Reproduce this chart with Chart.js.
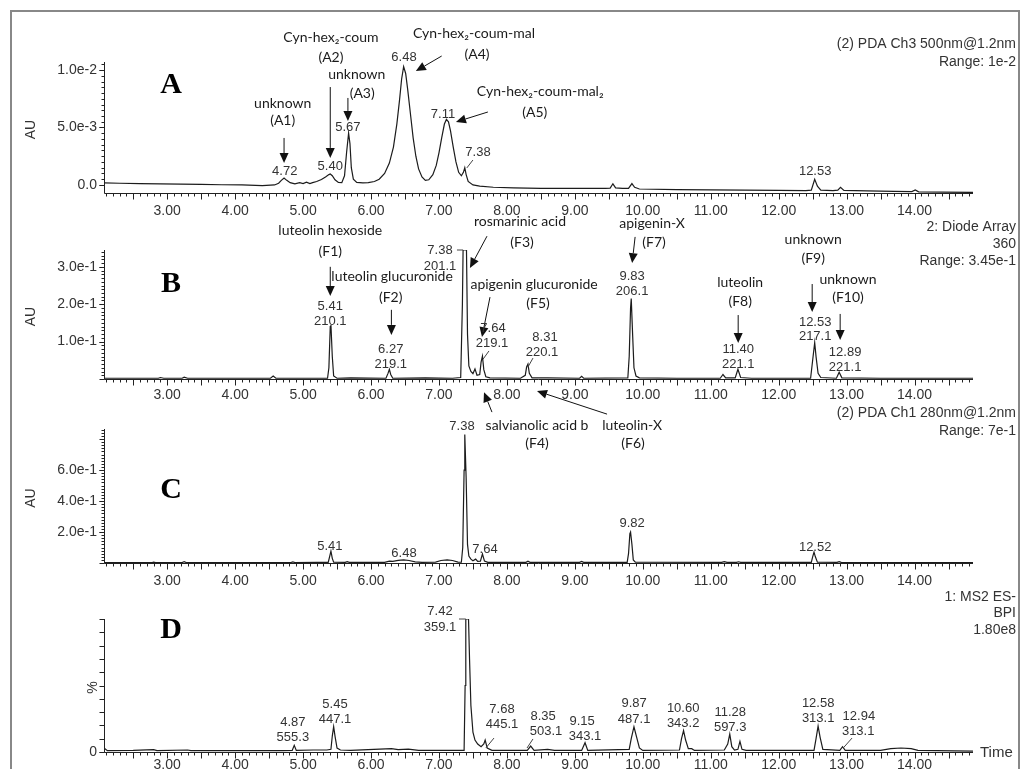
<!DOCTYPE html>
<html>
<head>
<meta charset="utf-8">
<script src="https://cdn.jsdelivr.net/npm/chart.js@4.4.0/dist/chart.umd.min.js"></script>
<style>
  html, body { margin: 0; padding: 0; background: #fff; }
  body { width: 1021px; height: 769px; position: relative; overflow: hidden; }
  #frame { position: absolute; left: 10px; top: 10px; width: 1006px; height: 800px; border: 2px solid #888; box-sizing: content-box; }
  canvas { position: absolute; left: 0; top: 0; }
</style>
</head>
<body>
<div id="frame"></div>
<canvas id="panelA" width="1021" height="769"></canvas>
<canvas id="panelB" width="1021" height="769"></canvas>
<canvas id="panelC" width="1021" height="769"></canvas>
<canvas id="panelD" width="1021" height="769"></canvas>
<script>
// ---- retention-time axis (minutes) ----
const timeRange = [2.07, 14.86];
const timeTicks = [3, 4, 5, 6, 7, 8, 9, 10, 11, 12, 13, 14];
const timeTickLabels = ['3.00', '4.00', '5.00', '6.00', '7.00', '8.00', '9.00', '10.00', '11.00', '12.00', '13.00', '14.00'];

// ---- A: PDA 500 nm trace [time, AU] ----
const traceA = [
  [2.07,0.00018],[2.3,0.00015],[2.6,0.00012],[2.9,0.0001],[3.2,0.00008],[3.5,0.00005],[3.8,0.00002],[4.1,0.0],
  [4.4,-0.00005],[4.58,0.0],[4.64,0.00015],[4.68,0.0004],[4.72,0.0006],[4.76,0.0004],[4.81,0.0002],[4.88,0.0001],
  [4.95,0.0002],[5.0,0.00012],[5.05,0.00025],[5.1,0.00012],[5.14,0.0002],[5.2,0.0003],[5.27,0.00048],[5.33,0.0007],
  [5.38,0.0009],[5.40,0.00095],[5.43,0.0008],[5.47,0.00045],[5.52,0.00022],[5.57,0.0002],[5.61,0.0008],[5.64,0.0028],
  [5.67,0.0045],[5.69,0.0036],[5.71,0.0015],[5.74,0.0005],[5.79,0.00022],[5.88,0.00018],[5.96,0.0002],[6.05,0.0003],
  [6.12,0.0005],[6.2,0.001],[6.27,0.0019],[6.33,0.0033],[6.38,0.0053],[6.42,0.0074],[6.45,0.0092],[6.48,0.0103],
  [6.51,0.0097],[6.54,0.0083],[6.58,0.0062],[6.62,0.0041],[6.66,0.0025],[6.70,0.0014],[6.75,0.0007],[6.80,0.0004],
  [6.85,0.00045],[6.91,0.0009],[6.96,0.0017],[7.00,0.0028],[7.04,0.0041],[7.08,0.0053],[7.11,0.0057],[7.14,0.0055],
  [7.17,0.0047],[7.21,0.0033],[7.25,0.002],[7.29,0.0011],[7.33,0.0008],[7.36,0.0011],[7.38,0.0015],[7.40,0.0009],
  [7.43,0.0003],[7.5,0.0],[7.6,-0.0001],[7.8,-0.0002],[8.1,-0.00025],[8.5,-0.0003],[9.0,-0.0003],[9.45,-0.0003],
  [9.52,-0.00028],[9.56,0.0001],[9.6,-0.00025],[9.7,-0.0003],[9.79,-0.0003],[9.84,0.00012],[9.88,-0.0002],[9.95,-0.00035],
  [10.5,-0.0004],[11.0,-0.00042],[11.5,-0.00045],[12.0,-0.00048],[12.4,-0.0005],[12.48,-0.00045],[12.53,0.0005],[12.57,-0.0001],
  [12.62,-0.00045],[12.8,-0.0005],[12.87,-0.00045],[12.91,-0.0002],[12.96,-0.00048],[13.3,-0.00052],[13.7,-0.00055],[13.96,-0.00058],
  [14.01,-0.00043],[14.06,-0.0006],[14.4,-0.00062],[14.86,-0.00065]
];
const yTicksA = [0, 0.005, 0.01];
const yTickLabelsA = ['0.0', '5.0e-3', '1.0e-2'];

// ---- B: diode array 360 nm trace [time, AU] ----
const traceB = [
  [2.07,0.002],[2.5,0.002],[2.87,0.002],[2.9,0.004],[2.95,0.002],[3.22,0.002],[3.25,0.005],[3.3,0.002],[4.0,0.002],
  [4.52,0.002],[4.56,0.008],[4.6,0.002],[5.0,0.002],[5.36,0.002],[5.38,0.03],[5.40,0.14],[5.41,0.145],[5.43,0.06],
  [5.45,0.008],[5.5,0.002],[5.7,0.003],[6.22,0.002],[6.25,0.015],[6.27,0.026],[6.29,0.012],[6.32,0.002],[6.8,0.003],
  [7.2,0.002],[7.32,0.004],[7.345,0.2],[7.355,0.345],[7.405,0.345],[7.42,0.12],[7.44,0.035],[7.47,0.02],[7.50,0.014],
  [7.53,0.027],[7.56,0.01],[7.60,0.012],[7.62,0.045],[7.64,0.061],[7.66,0.025],[7.69,0.006],[7.75,0.003],[8.2,0.002],
  [8.27,0.01],[8.29,0.032],[8.31,0.04],[8.33,0.015],[8.37,0.003],[8.6,0.003],[9.07,0.002],[9.1,0.007],[9.13,0.002],
  [9.78,0.003],[9.80,0.06],[9.82,0.19],[9.83,0.215],[9.85,0.12],[9.87,0.03],[9.90,0.008],[9.95,0.003],[10.5,0.002],
  [11.14,0.002],[11.18,0.012],[11.22,0.003],[11.36,0.003],[11.40,0.026],[11.44,0.004],[11.6,0.002],[12.47,0.002],
  [12.50,0.05],[12.53,0.097],[12.55,0.06],[12.58,0.015],[12.62,0.004],[12.85,0.002],[12.89,0.018],[12.93,0.003],
  [13.5,0.002],[14.86,0.002]
];
const yTicksB = [0.1, 0.2, 0.3];
const yTickLabelsB = ['1.0e-1', '2.0e-1', '3.0e-1'];

// ---- C: PDA 280 nm trace [time, AU] ----
const traceC = [
  [2.07,0.003],[2.5,0.003],[2.78,0.003],[2.8,0.006],[2.83,0.003],[3.22,0.003],[3.25,0.008],[3.28,0.003],[4.0,0.003],
  [4.82,0.003],[4.85,0.007],[4.88,0.003],[5.2,0.004],[5.37,0.004],[5.39,0.04],[5.41,0.077],[5.43,0.03],[5.45,0.005],
  [5.62,0.004],[5.65,0.009],[5.68,0.004],[6.2,0.004],[6.27,0.012],[6.32,0.01],[6.40,0.017],[6.48,0.02],[6.56,0.016],
  [6.65,0.007],[6.75,0.004],[6.95,0.006],[7.03,0.016],[7.12,0.02],[7.2,0.016],[7.28,0.006],[7.33,0.005],[7.35,0.1],
  [7.37,0.6],[7.38,0.83],[7.40,0.55],[7.42,0.12],[7.44,0.045],[7.47,0.025],[7.50,0.015],[7.54,0.025],[7.57,0.01],
  [7.61,0.012],[7.64,0.058],[7.67,0.012],[7.72,0.004],[8.28,0.004],[8.31,0.012],[8.34,0.004],[9.07,0.004],[9.1,0.01],
  [9.13,0.004],[9.77,0.004],[9.79,0.06],[9.81,0.19],[9.82,0.2],[9.84,0.12],[9.86,0.02],[9.89,0.005],[11.16,0.004],
  [11.2,0.009],[11.24,0.004],[11.38,0.004],[11.41,0.008],[11.44,0.004],[12.48,0.004],[12.50,0.04],[12.52,0.07],
  [12.54,0.04],[12.57,0.005],[12.86,0.004],[12.89,0.009],[12.92,0.004],[14.86,0.003]
];
const yTicksC = [0.2, 0.4, 0.6];
const yTickLabelsC = ['2.0e-1', '4.0e-1', '6.0e-1'];

// ---- D: MS ES- base peak intensity [time, %] ----
const traceD = [
  [2.07,3],[2.12,1],[2.5,1.2],[2.8,1.8],[2.85,1],[3.3,1.5],[3.35,1],[4.7,1],[4.84,1.2],[4.87,5],[4.90,1.2],
  [5.15,1.5],[5.35,1.5],[5.41,2],[5.43,12],[5.45,19],[5.47,12],[5.50,3],[5.55,1.5],[5.7,1.2],[6.3,2.5],[6.4,1.8],
  [6.55,2.2],[6.7,1.2],[7.37,1.2],[7.385,50],[7.395,100],[7.435,100],[7.45,70],[7.47,35],[7.50,15],[7.53,9],
  [7.57,6],[7.62,4],[7.66,6],[7.68,9],[7.71,3],[7.78,1.2],[8.30,1.2],[8.35,4.5],[8.40,1.2],[8.6,2],[8.7,1.2],
  [9.10,1.2],[9.15,7],[9.19,1.2],[9.80,2],[9.83,10],[9.87,19],[9.91,11],[9.95,3],[10.0,1.2],[10.54,1.5],[10.57,10],
  [10.60,16],[10.63,9],[10.67,2.5],[10.72,2.5],[10.76,1.2],[11.20,1.5],[11.25,6],[11.28,13.5],[11.31,4],[11.35,1.5],
  [11.40,2],[11.43,8],[11.46,2],[11.52,1.2],[12.52,1.2],[12.55,10],[12.58,19.5],[12.61,11],[12.65,2],[12.90,1.2],
  [12.94,4],[12.98,1.2],[13.5,1.2],[13.65,2.5],[13.8,3],[13.95,2.5],[14.05,1.2],[14.86,0.6]
];
const yTicksD = [0];
const yTickLabelsD = ['0'];

// ---- peak labels and call-outs, placed in each panel's data units ----
const notesA = [
  {k:'t', t:5.41, v:0.01287, s:'Cyn-hex₂-coum', f:'name'},
  {k:'t', t:5.41, v:0.01113, s:'(A2)', f:'name'},
  {k:'t', t:5.79, v:0.00965, s:'unknown', f:'name'},
  {k:'t', t:5.87, v:0.0080, s:'(A3)', f:'name'},
  {k:'t', t:4.70, v:0.00713, s:'unknown', f:'name'},
  {k:'t', t:4.70, v:0.00557, s:'(A1)', f:'name'},
  {k:'a', t1:4.72, v1:0.00409, t2:4.72, v2:0.00191},
  {k:'t', t:4.73, v:0.00122, s:'4.72', f:'num'},
  {k:'t', t:5.40, v:0.00165, s:'5.40', f:'num'},
  {k:'a', t1:5.40, v1:0.00852, t2:5.40, v2:0.00235},
  {k:'a', t1:5.66, v1:0.00757, t2:5.66, v2:0.00557},
  {k:'t', t:5.66, v:0.00504, s:'5.67', f:'num'},
  {k:'t', t:6.485, v:0.01113, s:'6.48', f:'num'},
  {k:'a', t1:7.04, v1:0.01122, t2:6.66, v2:0.00991},
  {k:'t', t:7.515, v:0.01322, s:'Cyn-hex₂-coum-mal', f:'name'},
  {k:'t', t:7.56, v:0.01139, s:'(A4)', f:'name'},
  {k:'t', t:7.06, v:0.00617, s:'7.11', f:'num'},
  {k:'a', t1:7.72, v1:0.00635, t2:7.25, v2:0.00548},
  {k:'t', t:8.49, v:0.00817, s:'Cyn-hex₂-coum-mal₂', f:'name'},
  {k:'t', t:8.41, v:0.00635, s:'(A5)', f:'name'},
  {k:'t', t:7.574, v:0.00287, s:'7.38', f:'num'},
  {k:'l', t1:7.50, v1:0.00217, t2:7.41, v2:0.00148},
  {k:'t', t:12.537, v:0.00122, s:'12.53', f:'num'}
];
const notesB = [
  {k:'t', t:5.40, v:0.396, s:'luteolin hexoside', f:'name'},
  {k:'t', t:5.40, v:0.340, s:'(F1)', f:'name'},
  {k:'a', t1:5.40, v1:0.300, t2:5.40, v2:0.222},
  {k:'t', t:5.40, v:0.195, s:'5.41', f:'num'},
  {k:'t', t:5.40, v:0.155, s:'210.1', f:'num'},
  {k:'t', t:6.31, v:0.273, s:'luteolin glucuronide', f:'name'},
  {k:'t', t:6.29, v:0.219, s:'(F2)', f:'name'},
  {k:'a', t1:6.30, v1:0.185, t2:6.30, v2:0.118},
  {k:'t', t:6.29, v:0.078, s:'6.27', f:'num'},
  {k:'t', t:6.29, v:0.040, s:'219.1', f:'num'},
  {k:'t', t:7.015, v:0.345, s:'7.38', f:'num'},
  {k:'t', t:7.015, v:0.302, s:'201.1', f:'num'},
  {k:'l', t1:7.265, v1:0.345, t2:7.355, v2:0.345},
  {k:'t', t:8.193, v:0.420, s:'rosmarinic acid', f:'name'},
  {k:'t', t:8.222, v:0.364, s:'(F3)', f:'name'},
  {k:'a', t1:7.707, v1:0.382, t2:7.456, v2:0.297},
  {k:'t', t:8.40, v:0.254, s:'apigenin glucuronide', f:'name'},
  {k:'t', t:8.458, v:0.203, s:'(F5)', f:'name'},
  {k:'a', t1:7.751, v1:0.219, t2:7.633, v2:0.112},
  {k:'t', t:7.795, v:0.136, s:'7.64', f:'num'},
  {k:'t', t:7.78, v:0.094, s:'219.1', f:'num'},
  {k:'l', t1:7.736, v1:0.075, t2:7.649, v2:0.053},
  {k:'t', t:8.561, v:0.112, s:'8.31', f:'num'},
  {k:'t', t:8.517, v:0.070, s:'220.1', f:'num'},
  {k:'l', t1:8.384, v1:0.056, t2:8.31, v2:0.032},
  {k:'t', t:10.137, v:0.417, s:'apigenin-X', f:'name'},
  {k:'t', t:10.166, v:0.364, s:'(F7)', f:'name'},
  {k:'a', t1:9.887, v1:0.380, t2:9.843, v2:0.310},
  {k:'t', t:9.843, v:0.273, s:'9.83', f:'num'},
  {k:'t', t:9.843, v:0.235, s:'206.1', f:'num'},
  {k:'t', t:11.433, v:0.257, s:'luteolin', f:'name'},
  {k:'t', t:11.433, v:0.206, s:'(F8)', f:'name'},
  {k:'a', t1:11.404, v1:0.171, t2:11.404, v2:0.096},
  {k:'t', t:11.404, v:0.078, s:'11.40', f:'num'},
  {k:'t', t:11.404, v:0.040, s:'221.1', f:'num'},
  {k:'t', t:12.508, v:0.372, s:'unknown', f:'name'},
  {k:'t', t:12.508, v:0.321, s:'(F9)', f:'name'},
  {k:'a', t1:12.493, v1:0.254, t2:12.493, v2:0.179},
  {k:'t', t:12.537, v:0.152, s:'12.53', f:'num'},
  {k:'t', t:12.537, v:0.115, s:'217.1', f:'num'},
  {k:'t', t:13.02, v:0.267, s:'unknown', f:'name'},
  {k:'t', t:13.02, v:0.217, s:'(F10)', f:'name'},
  {k:'a', t1:12.905, v1:0.174, t2:12.905, v2:0.104},
  {k:'t', t:12.978, v:0.072, s:'12.89', f:'num'},
  {k:'t', t:12.978, v:0.032, s:'221.1', f:'num'}
];
const notesC = [
  {k:'t', t:8.443, v:0.890, s:'salvianolic acid b', f:'name'},
  {k:'t', t:8.443, v:0.774, s:'(F4)', f:'name'},
  {k:'a', t1:7.78, v1:0.974, t2:7.663, v2:1.103},
  {k:'t', t:9.843, v:0.890, s:'luteolin-X', f:'name'},
  {k:'t', t:9.857, v:0.774, s:'(F6)', f:'name'},
  {k:'a', t1:9.474, v1:0.961, t2:8.443, v2:1.110},
  {k:'t', t:7.339, v:0.884, s:'7.38', f:'num'},
  {k:'t', t:5.395, v:0.110, s:'5.41', f:'num'},
  {k:'t', t:6.485, v:0.065, s:'6.48', f:'num'},
  {k:'t', t:7.677, v:0.090, s:'7.64', f:'num'},
  {k:'t', t:9.843, v:0.258, s:'9.82', f:'num'},
  {k:'t', t:12.537, v:0.103, s:'12.52', f:'num'}
];
const notesD = [
  {k:'t', t:7.015, v:106, s:'7.42', f:'num'},
  {k:'t', t:7.015, v:94, s:'359.1', f:'num'},
  {k:'l', t1:7.295, v1:100, t2:7.395, v2:100},
  {k:'t', t:4.85, v:22.6, s:'4.87', f:'num'},
  {k:'t', t:4.85, v:11.3, s:'555.3', f:'num'},
  {k:'t', t:5.47, v:36.1, s:'5.45', f:'num'},
  {k:'t', t:5.47, v:24.8, s:'447.1', f:'num'},
  {k:'t', t:7.928, v:32.3, s:'7.68', f:'num'},
  {k:'t', t:7.928, v:21.1, s:'445.1', f:'num'},
  {k:'l', t1:7.81, v1:10.5, t2:7.69, v2:3.0},
  {k:'t', t:8.532, v:27.1, s:'8.35', f:'num'},
  {k:'t', t:8.576, v:15.8, s:'503.1', f:'num'},
  {k:'l', t1:8.384, v1:9.8, t2:8.296, v2:3.0},
  {k:'t', t:9.106, v:23.3, s:'9.15', f:'num'},
  {k:'t', t:9.15, v:12.0, s:'343.1', f:'num'},
  {k:'t', t:9.872, v:36.8, s:'9.87', f:'num'},
  {k:'t', t:9.872, v:24.8, s:'487.1', f:'num'},
  {k:'t', t:10.594, v:33.1, s:'10.60', f:'num'},
  {k:'t', t:10.594, v:21.8, s:'343.2', f:'num'},
  {k:'t', t:11.286, v:30.1, s:'11.28', f:'num'},
  {k:'t', t:11.286, v:18.8, s:'597.3', f:'num'},
  {k:'t', t:12.581, v:36.8, s:'12.58', f:'num'},
  {k:'t', t:12.581, v:25.6, s:'313.1', f:'num'},
  {k:'t', t:13.18, v:27.1, s:'12.94', f:'num'},
  {k:'t', t:13.17, v:15.8, s:'313.1', f:'num'},
  {k:'l', t1:13.08, v1:10.5, t2:12.95, v2:3.0}
];

// ---- styling ----
const INK = '#222';
const TEXT = '#333';
const SANS = '"Liberation Sans", Arial, sans-serif';
const FONTS = { num: '13px ' + SANS, name: '14px Lato, "Open Sans", sans-serif' };

// panel layout: plot box in page pixels, axis ranges and side captions
const panels = [
  { id:'panelA', trace:traceA, notes:notesA, yTicks:yTicksA, yLabels:yTickLabelsA,
    yMin:-0.0007, yMax:0.0107, minorStep:0.0005, minorFrom:0, minorTo:0.0105, majorEvery:10,
    top:62, axisY:193, xPad:10, letter:'A', letterY:85, unit:'AU',
    info:['(2) PDA Ch3 500nm@1.2nm', 'Range: 1e-2'], infoY:44, infoStep:18 },
  { id:'panelB', trace:traceB, notes:notesB, yTicks:yTicksB, yLabels:yTickLabelsB,
    yMin:0, yMax:0.345, minorStep:0.01, minorFrom:0, minorTo:0.34, majorEvery:10,
    top:250, axisY:379, xPad:8, letter:'B', letterY:284, unit:'AU',
    info:['2: Diode Array', '360', 'Range: 3.45e-1'], infoY:227, infoStep:17 },
  { id:'panelC', trace:traceC, notes:notesC, yTicks:yTicksC, yLabels:yTickLabelsC,
    yMin:0, yMax:0.865, minorStep:0.02, minorFrom:0, minorTo:0.86, majorEvery:10,
    top:429, axisY:563, xPad:10, letter:'C', letterY:490, unit:'AU',
    info:['(2) PDA Ch1 280nm@1.2nm', 'Range: 7e-1'], infoY:413, infoStep:18 },
  { id:'panelD', trace:traceD, notes:notesD, yTicks:yTicksD, yLabels:yTickLabelsD,
    yMin:0, yMax:100, minorStep:10, minorFrom:0, minorTo:100, majorEvery:1,
    top:619, axisY:752, xPad:5, letter:'D', letterY:630, unit:'%', timeTitle:'Time',
    info:['1: MS2 ES-', 'BPI', '1.80e8'], infoY:597, infoStep:16.5 }
];

const PLOT_LEFT = 104, PLOT_RIGHT = 973, AXIS_H = 30, PAGE_W = 1021, PAGE_H = 769;

function segment(ctx, x1, y1, x2, y2) {
  ctx.beginPath(); ctx.moveTo(x1, y1); ctx.lineTo(x2, y2); ctx.stroke();
}

function arrow(ctx, x1, y1, x2, y2) {
  const ang = Math.atan2(y2 - y1, x2 - x1), L = 10, W = 4.5;
  const bx = x2 - L * Math.cos(ang), by = y2 - L * Math.sin(ang);
  segment(ctx, x1, y1, bx, by);
  ctx.beginPath();
  ctx.moveTo(x2, y2);
  ctx.lineTo(bx + W * Math.sin(ang), by - W * Math.cos(ang));
  ctx.lineTo(bx - W * Math.sin(ang), by + W * Math.cos(ang));
  ctx.closePath(); ctx.fill();
}

function decorations(P) {
  return {
    id: 'decor' + P.letter,
    afterDatasetsDraw(chart) {
      const { ctx, chartArea: a } = chart;
      const xs = chart.scales.x, ys = chart.scales.y;
      ctx.save();
      ctx.strokeStyle = INK; ctx.fillStyle = INK; ctx.lineWidth = 1;

      // axis lines
      const ax = Math.round(a.left) + 0.5, ay = Math.round(a.bottom) + 0.5;
      segment(ctx, ax, a.top, ax, ay);
      segment(ctx, ax, ay, a.right, ay);

      // time ticks: every 0.1 min, longer every 0.5 min
      for (let i = Math.ceil(timeRange[0] * 10); i <= Math.floor(timeRange[1] * 10); i++) {
        const px = Math.round(xs.getPixelForValue(i / 10)) + 0.5;
        segment(ctx, px, ay, px, ay + (i % 5 === 0 ? 6 : 3));
      }
      // value ticks
      const n = Math.round((P.minorTo - P.minorFrom) / P.minorStep);
      for (let k = 0; k <= n; k++) {
        const v = P.minorFrom + k * P.minorStep;
        const py = Math.round(ys.getPixelForValue(v)) + 0.5;
        segment(ctx, ax, py, ax - (k % P.majorEvery === 0 ? 5 : 3), py);
      }
      for (const v of P.yTicks) {
        const py = Math.round(ys.getPixelForValue(v)) + 0.5;
        segment(ctx, ax, py, ax - 5, py);
      }

      // peak labels, call-outs and arrows
      ctx.textAlign = 'center'; ctx.textBaseline = 'middle';
      for (const n of P.notes) {
        if (n.k === 't') {
          ctx.font = FONTS[n.f];
          ctx.fillStyle = n.f === 'num' ? TEXT : '#1a1a1a';
          ctx.fillText(n.s, xs.getPixelForValue(n.t), ys.getPixelForValue(n.v));
        } else {
          ctx.fillStyle = '#111'; ctx.strokeStyle = n.k === 'a' ? '#111' : '#444';
          const x1 = xs.getPixelForValue(n.t1), y1 = ys.getPixelForValue(n.v1);
          const x2 = xs.getPixelForValue(n.t2), y2 = ys.getPixelForValue(n.v2);
          if (n.k === 'a') arrow(ctx, x1, y1, x2, y2); else segment(ctx, x1, y1, x2, y2);
        }
      }

      // panel letter
      ctx.fillStyle = '#000';
      ctx.font = 'bold 30px "Liberation Serif", "DejaVu Serif", serif';
      ctx.fillText(P.letter, 171, P.letterY);

      // axis unit, rotated
      ctx.save();
      ctx.translate(P.unit === '%' ? 93 : 31, (a.top + a.bottom) / 2 + 2);
      ctx.rotate(-Math.PI / 2);
      ctx.font = '14px ' + SANS; ctx.fillStyle = TEXT;
      ctx.fillText(P.unit, 0, 0);
      ctx.restore();

      // detector captions at the right
      ctx.textAlign = 'right'; ctx.font = '14px ' + SANS; ctx.fillStyle = TEXT;
      P.info.forEach((s, i) => ctx.fillText(s, 1016, P.infoY + i * P.infoStep));

      if (P.timeTitle) {
        ctx.textAlign = 'left'; ctx.font = '15px ' + SANS;
        ctx.fillText(P.timeTitle, a.right + 7, ay);
      }
      ctx.restore();
    }
  };
}

for (const P of panels) {
  new Chart(document.getElementById(P.id), {
    type: 'line',
    data: {
      datasets: [{
        data: P.trace.map(([t, v]) => ({ x: t, y: v })),
        borderColor: '#1c1c1c', borderWidth: 1.2, pointRadius: 0, tension: 0, fill: false
      }]
    },
    options: {
      responsive: false, animation: false, events: [],
      layout: { padding: { top: P.top, bottom: PAGE_H - P.axisY - AXIS_H, left: 0, right: PAGE_W - PLOT_RIGHT } },
      plugins: { legend: { display: false }, tooltip: { enabled: false } },
      scales: {
        x: {
          type: 'linear', min: timeRange[0], max: timeRange[1],
          grid: { display: false, drawTicks: false }, border: { display: false },
          afterBuildTicks: s => { s.ticks = timeTicks.map(v => ({ value: v })); },
          afterFit: s => { s.height = AXIS_H; s.paddingLeft = 0; s.paddingRight = 0; },
          ticks: {
            autoSkip: false, maxRotation: 0, padding: P.xPad, color: TEXT,
            font: { family: SANS, size: 14 },
            callback: (v) => timeTickLabels[timeTicks.indexOf(v)]
          }
        },
        y: {
          type: 'linear', min: P.yMin, max: P.yMax,
          grid: { display: false, drawTicks: false }, border: { display: false },
          afterBuildTicks: s => { s.ticks = P.yTicks.map(v => ({ value: v })); },
          afterFit: s => { s.width = PLOT_LEFT; },
          ticks: {
            autoSkip: false, padding: 7, color: TEXT,
            font: { family: SANS, size: 14 },
            callback: (v) => P.yLabels[P.yTicks.indexOf(v)]
          }
        }
      }
    },
    plugins: [decorations(P)]
  });
}
</script>
</body>
</html>
